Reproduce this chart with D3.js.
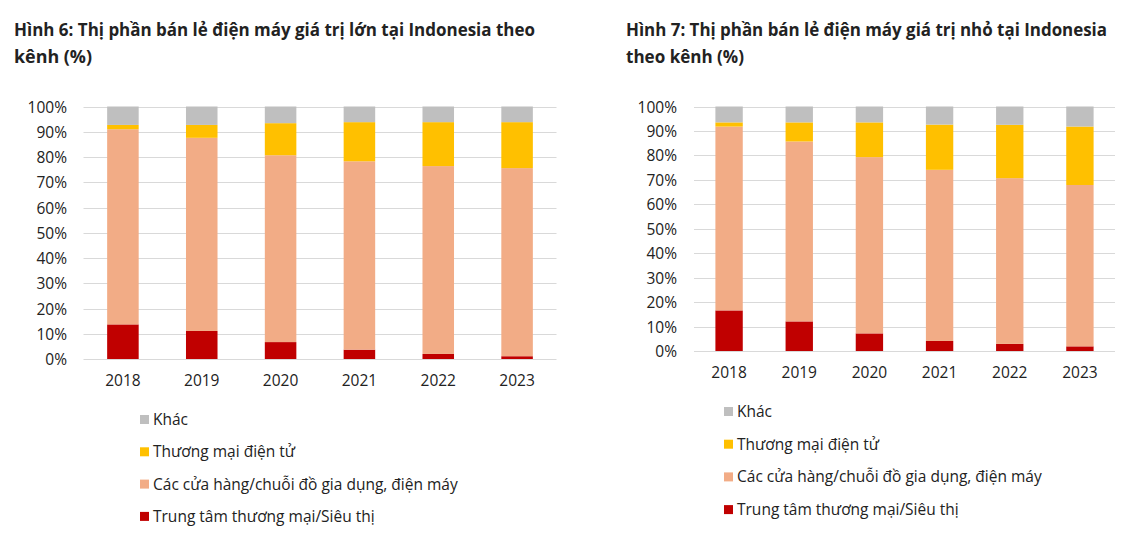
<!DOCTYPE html>
<html>
<head>
<meta charset="utf-8">
<script src="https://cdn.jsdelivr.net/npm/d3@7/dist/d3.min.js"></script>
<style>
  body { margin: 0; background: #fff; }
  svg { display: block; }
  text { font-family: "Open Sans", "Noto Sans", sans-serif; fill: #222; }
</style>
</head>
<body>
<svg id="c" width="1147" height="537"></svg>
<script>
const years = ["2018", "2019", "2020", "2021", "2022", "2023"];
const seriesNames = ["Trung tâm thương mại/Siêu thị", "Các cửa hàng/chuỗi đồ gia dụng, điện máy", "Thương mại điện tử", "Khác"];
const seriesColors = ["#C00000", "#F2AC86", "#FFC000", "#BFBFBF"];
const yTicks = [0, 10, 20, 30, 40, 50, 60, 70, 80, 90, 100];

// Chart 1: large-value appliances
const big_sieuthi = [13.7, 11.1, 6.7, 3.7, 2.0, 1.1];
const big_cuahang = [77.3, 76.5, 74.0, 74.6, 74.4, 74.5];
const big_tmdt    = [1.7, 5.1, 12.7, 15.5, 17.4, 18.2];
const big_khac    = [7.3, 7.3, 6.6, 6.2, 6.2, 6.2];

// Chart 2: small-value appliances
const small_sieuthi = [16.6, 12.1, 7.2, 4.1, 2.9, 1.9];
const small_cuahang = [75.2, 73.6, 72.1, 70.0, 67.8, 66.0];
const small_tmdt    = [1.7, 7.8, 14.2, 18.5, 21.8, 23.9];
const small_khac    = [6.5, 6.5, 6.5, 7.4, 7.5, 8.2];

const title1 = ["Hình 6: Thị phần bán lẻ điện máy giá trị lớn tại Indonesia theo", "kênh (%)"];
const title2 = ["Hình 7: Thị phần bán lẻ điện máy giá trị nhỏ tại Indonesia", "theo kênh (%)"];

const svg = d3.select("#c");

function drawChart(cfg) {
  const g = svg.append("g");
  const data = years.map((y, i) => ({year: y, s0: cfg.vals[0][i], s1: cfg.vals[1][i], s2: cfg.vals[2][i], s3: cfg.vals[3][i]}));
  const stack = d3.stack().keys(["s0", "s1", "s2", "s3"])(data);

  const x = d3.scaleBand().domain(years).range([cfg.x0, cfg.x1]).paddingInner(cfg.pad).paddingOuter(cfg.pad / 2);
  const y = d3.scaleLinear().domain([0, 100]).range([cfg.y0, cfg.y1]);

  // title
  g.append("g").selectAll("text").data(cfg.title).join("text")
    .attr("x", cfg.tx).attr("y", (d, i) => 36 + i * 27)
    .attr("font-weight", "bold").attr("font-size", cfg.tfs)
    .attr("textLength", (d, i) => cfg.tlen[i]).attr("lengthAdjust", "spacingAndGlyphs")
    .text(d => d);

  // grid
  g.append("g").selectAll("line").data(yTicks).join("line")
    .attr("x1", cfg.x0).attr("x2", cfg.x1)
    .attr("y1", d => Math.round(y(d)) + 0.5).attr("y2", d => Math.round(y(d)) + 0.5)
    .attr("stroke", "#D9D9D9").attr("stroke-width", 1);

  // y axis labels
  const ya = d3.axisLeft(y).tickValues(yTicks).tickFormat(d => d + "%").tickSize(0).tickPadding(0);
  const yg = g.append("g").attr("transform", `translate(${cfg.ylx},0)`).call(ya);
  yg.select(".domain").remove();
  yg.selectAll("text").attr("font-size", 15.5).attr("fill", "#222").attr("dy", "0.36em")
    .style("font-family", '"Open Sans", sans-serif');

  // bars
  g.append("g").selectAll("g").data(stack).join("g")
    .attr("fill", (d, i) => seriesColors[i])
    .selectAll("rect").data(d => d).join("rect")
    .attr("x", d => x(d.data.year))
    .attr("width", x.bandwidth())
    .attr("y", d => y(d[1]))
    .attr("height", d => y(d[0]) - y(d[1]));

  // x axis labels
  const xa = d3.axisBottom(x).tickSize(0).tickPadding(0);
  const xg = g.append("g").attr("transform", `translate(0,${cfg.xly})`).call(xa);
  xg.select(".domain").remove();
  xg.selectAll("text").attr("font-size", 15.5).attr("fill", "#222").attr("dy", 0)
    .style("font-family", '"Open Sans", sans-serif');

  // legend (reverse order: Khác first)
  const order = [3, 2, 1, 0];
  const lg = g.append("g");
  const items = lg.selectAll("g").data(order).join("g")
    .attr("transform", (d, i) => `translate(${cfg.lx},${cfg.ly + i * cfg.lstep})`);
  items.append("rect").attr("x", 0).attr("y", -10).attr("width", 9).attr("height", 9)
    .attr("fill", d => seriesColors[d]);
  items.append("text").attr("x", 13).attr("y", 0).attr("font-size", 15.5)
    .text(d => seriesNames[d]);
}

drawChart({
  vals: [big_sieuthi, big_cuahang, big_tmdt, big_khac],
  title: title1, tx: 14, tfs: 17.5, tlen: [521, 78],
  x0: 83.5, x1: 556.5, pad: 0.6,
  y0: 359, y1: 106.5,
  ylx: 67, xly: 386,
  lx: 140, ly: 425, lstep: 32.3
});

drawChart({
  vals: [small_sieuthi, small_cuahang, small_tmdt, small_khac],
  title: title2, tx: 626, tfs: 17.5, tlen: [481, 118],
  x0: 694, x1: 1115, pad: 0.61,
  y0: 351, y1: 106.5,
  ylx: 677, xly: 378,
  lx: 724, ly: 417, lstep: 32.7
});
</script>
</body>
</html>
